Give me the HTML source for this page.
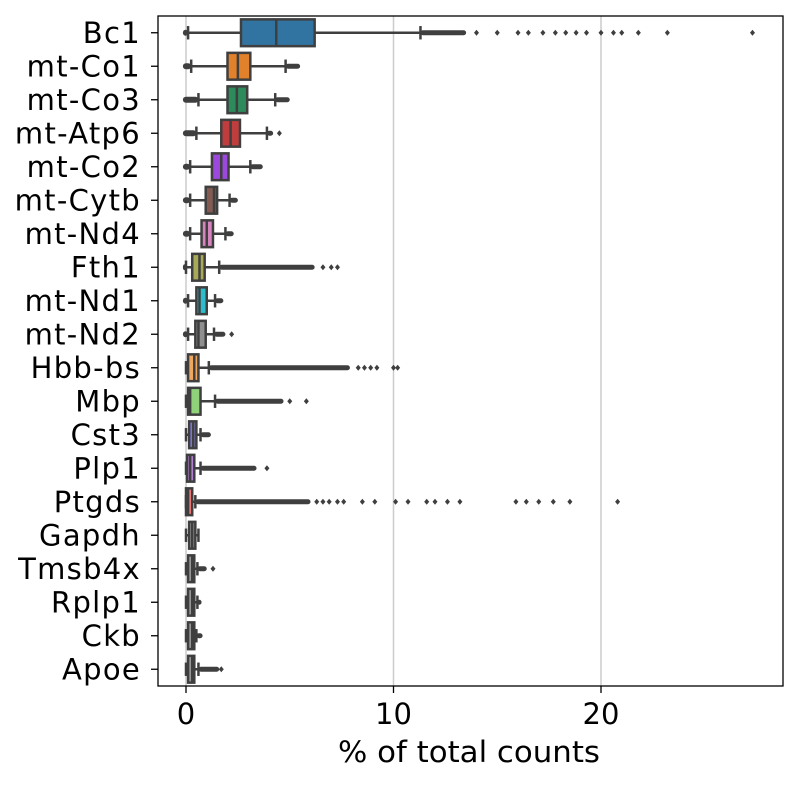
<!DOCTYPE html>
<html><head><meta charset="utf-8"><style>
body{margin:0;background:#fff}
svg{display:block;font-family:"DejaVu Sans","Liberation Sans",sans-serif}
</style></head><body>
<svg id="chart" width="797" height="787" xmlns="http://www.w3.org/2000/svg"></svg>
<script>
const genes=["Bc1","mt-Co1","mt-Co3","mt-Atp6","mt-Co2","mt-Cytb","mt-Nd4","Fth1","mt-Nd1","mt-Nd2","Hbb-bs","Mbp","Cst3","Plp1","Ptgds","Gapdh","Tmsb4x","Rplp1","Ckb","Apoe"];
const whiskerLow=[0.1,0.25,0.6,0.5,0.2,0.2,0.2,0.0,0.1,0.1,0.0,0.0,0.0,0.0,0.0,0.0,0.0,0.0,0.0,0.0];
const q1=[2.65,2.0,2.0,1.7,1.25,0.95,0.75,0.3,0.5,0.45,0.1,0.1,0.15,0.05,0.0,0.15,0.1,0.1,0.1,0.1];
const median=[4.35,2.5,2.45,2.15,1.7,1.35,1.0,0.65,0.65,0.6,0.4,0.2,0.35,0.2,0.1,0.3,0.3,0.3,0.3,0.3];
const q3=[6.2,3.1,2.95,2.6,2.05,1.5,1.3,0.9,1.0,0.95,0.6,0.7,0.5,0.4,0.3,0.45,0.4,0.4,0.4,0.4];
const whiskerHigh=[11.3,4.8,4.3,3.9,3.1,2.1,1.9,1.6,1.4,1.35,1.1,1.4,0.7,0.7,0.45,0.6,0.55,0.55,0.5,0.6];
const denseEnd=[13.5,5.5,5.0,4.2,3.7,2.5,2.3,6.2,1.8,1.9,7.9,4.7,1.2,3.4,6.0,0.6,1.0,0.75,0.8,1.6];
const sparseOutliers=[[14.0,15.0,16.0,16.5,17.2,17.8,18.3,18.8,19.3,20.0,20.6,21.0,21.8,23.2,27.3],[],[],[4.5],[],[],[],[6.6,7.0,7.3],[],[2.2],[8.3,8.6,8.9,9.2,10.0,10.2],[5.0,5.8],[],[3.9],[6.3,6.6,6.9,7.3,7.6,8.5,9.1,10.1,10.7,11.6,12.0,12.6,13.2,15.9,16.4,17.0,17.7,18.5,20.8],[],[1.3],[],[],[1.7]];
const boxColors=["#3274a1","#e1812c","#2d8a5a","#c03d3e","#9c48dc","#845b53","#d684bd","#a9aa55","#2ebdcc","#8f8f8f","#f0a860","#8fd27a","#7777cc","#b07fd0","#ee7777","#999","#999","#999","#999","#999"];
const xTicks=[0,10,20];

const svg=document.getElementById('chart');
const NS="http://www.w3.org/2000/svg";
const L=158,R=783,T=16,B=686;
const x=v=>186+v*20.75;
const step=(B-T)/genes.length;
const yc=i=>T+step*(i+0.5);
const ink="#3f3f3f";
function mk(tag,attrs,parent){const e=document.createElementNS(NS,tag);for(const k in attrs)e.setAttribute(k,attrs[k]);(parent||svg).appendChild(e);return e;}

xTicks.forEach(t=>{
  const g=mk('line',{x1:x(t),x2:x(t),y1:T,y2:B,stroke:"#cccccc","stroke-width":1.5});
  
  
  const tk=mk('line',{x1:x(t),x2:x(t),y1:B,y2:B+7,stroke:"#000","stroke-width":1.3});
  
  
  const tl=mk('text',{x:x(t),y:724,"font-size":29,"text-anchor":"middle",fill:"#000"});
  tl.textContent=t;
  
  
});

genes.forEach((g,i)=>{
  const y=yc(i),h=step*0.8;
  const grp=mk('g',{});
  
  
  if(denseEnd[i]>whiskerHigh[i]) mk('rect',{x:x(whiskerHigh[i]),y:y-2.5,width:x(denseEnd[i])-x(whiskerHigh[i]),height:5,rx:2.5,fill:ink},grp);
  if(q1[i]>0.15) mk('rect',{x:x(-0.15),y:y-3,width:x(Math.min(whiskerLow[i],q1[i]))-x(-0.15),height:6,rx:3,fill:ink},grp);
  sparseOutliers[i].forEach(v=>{
    mk('path',{d:`M${x(v)-2.5},${y}L${x(v)},${y-3}L${x(v)+2.5},${y}L${x(v)},${y+3}Z`,fill:ink},grp);
  });
  mk('line',{x1:x(whiskerLow[i]),x2:x(whiskerHigh[i]),y1:y,y2:y,stroke:ink,"stroke-width":2.5},grp);
  [whiskerLow[i],whiskerHigh[i]].forEach(v=>mk('line',{x1:x(v),x2:x(v),y1:y-h/4,y2:y+h/4,stroke:ink,"stroke-width":2.5},grp));
  const bw=Math.max(x(q3[i])-x(q1[i]),5);
  mk('rect',{x:x(q1[i]),y:y-h/2,width:bw,height:h,fill:boxColors[i],stroke:ink,"stroke-width":2.5},grp);
  mk('line',{x1:x(median[i]),x2:x(median[i]),y1:y-h/2,y2:y+h/2,stroke:ink,"stroke-width":2.5},grp);
  const lb=mk('text',{x:141,y:y+10,"font-size":29,"letter-spacing":1.3,"text-anchor":"end",fill:"#000"});
  lb.textContent=g;
  
  
  const tk=mk('line',{x1:L-7,x2:L,y1:y,y2:y,stroke:"#000","stroke-width":1.3});
  
  
});

const frame=mk('rect',{x:L,y:T,width:R-L,height:B-T,fill:"none",stroke:"#000","stroke-width":1.3});


const xt=mk('text',{x:338,y:762,"font-size":29,textLength:262,lengthAdjust:"spacingAndGlyphs",fill:"#000"});
xt.textContent="% of total counts";


</script>
</body></html>
